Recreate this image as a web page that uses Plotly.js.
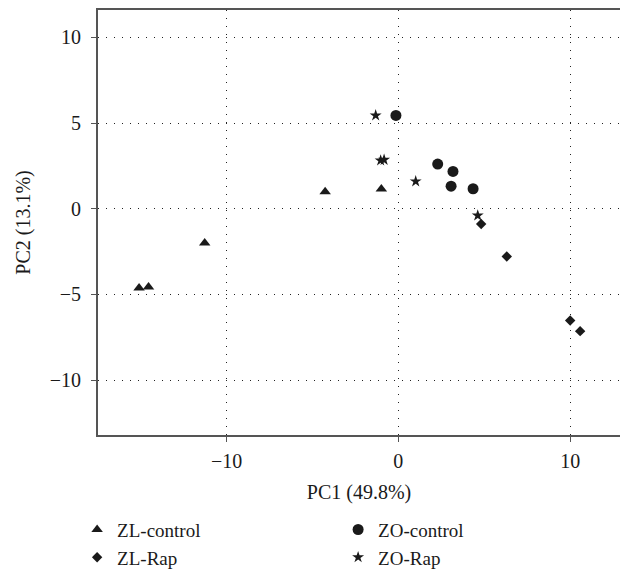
<!DOCTYPE html>
<html>
<head>
<meta charset="utf-8">
<script src="https://cdn.plot.ly/plotly-3.0.1.min.js"></script>
<style>html,body{margin:0;padding:0;background:#fff;}#chart{width:620px;height:571px;}</style>
</head>
<body>
<div id="chart"></div>
<script>
const seriesNames = ["ZL-control", "ZO-control", "ZL-Rap", "ZO-Rap"];

const zlControlX = [-15.09, -14.54, -11.27, -4.26, -0.99];
const zlControlY = [-4.62, -4.56, -2.0, 0.99, 1.15];

const zoControlX = [-0.14, 2.29, 3.18, 3.07, 4.35];
const zoControlY = [5.45, 2.61, 2.18, 1.32, 1.17];

const zlRapX = [4.82, 6.31, 10.0, 10.58];
const zlRapY = [-0.89, -2.78, -6.52, -7.14];

const zoRapX = [-1.32, -1.03, -0.83, 1.01, 4.62];
const zoRapY = [5.45, 2.82, 2.86, 1.60, -0.39];

const xTicks = [-10, 0, 10];
const yTicks = [-10, -5, 0, 5, 10];

const FONT = "Liberation Serif, Times New Roman, serif";
const INK = "#1a1a1a";
const FS = 20;

function tr(name, x, y, symbol, size) {
  return {
    type: "scatter", mode: "markers", name: name, x: x, y: y,
    marker: {symbol: symbol, size: size, color: INK, line: {width: 0}},
    hoverinfo: "x+y"
  };
}

const data = [
  tr(seriesNames[0], zlControlX, zlControlY, "triangle-up", 10),
  tr(seriesNames[1], zoControlX, zoControlY, "circle", 11),
  tr(seriesNames[2], zlRapX, zlRapY, "diamond", 8),
  tr(seriesNames[3], zoRapX, zoRapY, "star", 9)
];

const axisCommon = {
  showline: true, linecolor: "#555", linewidth: 2,
  ticks: "outside", ticklen: 5, tickwidth: 1, tickcolor: "#555",
  showgrid: true, gridcolor: "#222", gridwidth: 1, griddash: "1px,7px",
  zeroline: false,
  tickfont: {family: FONT, size: FS, color: INK}
};

const layout = {
  width: 620, height: 571,
  margin: {l: 98, r: 0, t: 10, b: 136, autoexpand: false},
  paper_bgcolor: "#fff", plot_bgcolor: "#fff",
  font: {family: FONT, size: FS, color: INK},
  showlegend: true,
  xaxis: Object.assign({}, axisCommon, {
    range: [-17.48, 12.9], tickvals: xTicks, ticktext: xTicks.map(v => v < 0 ? "\u2212" + Math.abs(v) : String(v)),
    mirror: true, ticklabelstandoff: 2,
    title: {text: "PC1 (49.8%)", font: {family: FONT, size: FS, color: INK}, standoff: 14}
  }),
  yaxis: Object.assign({}, axisCommon, {
    range: [-13.2, 11.6], tickvals: yTicks, ticktext: yTicks.map(v => v < 0 ? "\u2212" + Math.abs(v) : String(v)),
    mirror: false, ticklabelstandoff: 6,
    title: {text: "PC2 (13.1%)", font: {family: FONT, size: FS, color: INK}, standoff: 14}
  }),
  legend: {
    orientation: "h", x: -0.04, xanchor: "left", y: -0.178, yanchor: "top",
    entrywidth: 216, entrywidthmode: "pixels",
    font: {family: FONT, size: 19, color: INK},
    tracegroupgap: 0, itemclick: false, bgcolor: "rgba(0,0,0,0)"
  }
};

Plotly.newPlot("chart", data, layout, {displayModeBar: false, staticPlot: true});
</script>
</body>
</html>
